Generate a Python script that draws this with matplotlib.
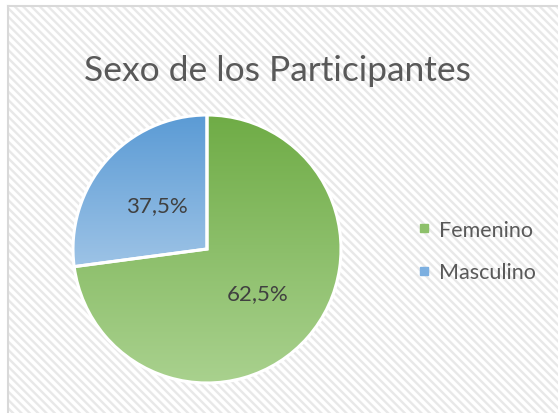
import matplotlib.pyplot as plt
import numpy as np
from matplotlib.patches import Rectangle
from matplotlib.lines import Line2D
from matplotlib.colors import LinearSegmentedColormap

# categories and slice shares as drawn (labels in the chart are typed text)
categories = ["Femenino", "Masculino"]
slice_share = [72.9, 27.1]
data_labels = ["62,5%", "37,5%"]
title = "Sexo de los Participantes"

# gradient colours, top -> bottom of each slice
grad_top = ["#6FAC46", "#5B9BD5"]
grad_bottom = ["#A9D18E", "#9DC3E6"]
legend_colors = ["#8DC06A", "#7CAFE0"]

plt.rcParams['font.family'] = ['Lato', 'DejaVu Sans']
plt.rcParams['hatch.linewidth'] = 1.7

W, H = 558, 414
fig = plt.figure(figsize=(W / 100, H / 100), dpi=100)
fig.patch.set_facecolor('white')

# hatched chart area with border only on top/left (cropped screenshot)
bg = Rectangle((8 / W, 0), 1 - 8 / W, 1 - 8 / H, transform=fig.transFigure,
               facecolor='white', edgecolor='#E8E8E8', linewidth=0,
               hatch='\\\\\\\\', zorder=0)
fig.add_artist(bg)
fig.add_artist(Line2D([8 / W, 8 / W], [0, 1 - 7 / H], transform=fig.transFigure,
                      color='#D9D9D9', lw=1.5))
fig.add_artist(Line2D([8 / W, 1], [1 - 7 / H, 1 - 7 / H], transform=fig.transFigure,
                      color='#D9D9D9', lw=1.5))

fig.text(0.497, 1 - 71 / H, title, ha='center', va='center',
         fontsize=25.5, color='#595959')

# pie axes: centre (207, 250) px, radius 134 px
cx, cy, r = 207, 250, 134
half = 140
ax = fig.add_axes([(cx - half) / W, (H - cy - half) / H, 2 * half / W, 2 * half / H])
ax.axis('off')

wedges, texts = ax.pie(slice_share, labels=data_labels, startangle=90,
                       counterclock=False, labeldistance=0.5,
                       wedgeprops=dict(edgecolor='white', linewidth=2.2),
                       textprops=dict(fontsize=16, color='#404040',
                                      ha='center', va='center'))

for w, c0, c1 in zip(wedges, grad_top, grad_bottom):
    bb = w.get_path().get_extents()
    cmap = LinearSegmentedColormap.from_list('g', [c1, c0])
    grad = np.linspace(0, 1, 256).reshape(-1, 1)
    im = ax.imshow(grad, cmap=cmap, origin='lower', aspect='auto',
                   extent=(bb.x0, bb.x1, bb.y0, bb.y1), zorder=1)
    im.set_clip_path(w)
    w.set_facecolor('none')
    w.set_zorder(2)
for t in texts:
    t.set_zorder(3)

ax.set_xlim(-half / r, half / r)
ax.set_ylim(-half / r, half / r)
ax.set_aspect('equal')

# legend
handles = [Line2D([], [], marker='s', linestyle='none', markersize=5.5,
                  markerfacecolor=c, markeredgecolor=c) for c in legend_colors]
leg = fig.legend(handles, categories, loc='center left',
                 bbox_to_anchor=(398 / W, 1 - 252 / H), frameon=False,
                 fontsize=15.5, labelcolor='#595959', handlelength=0.6,
                 handletextpad=0.4, labelspacing=1.05)

fig.savefig('out.png', dpi=100)
